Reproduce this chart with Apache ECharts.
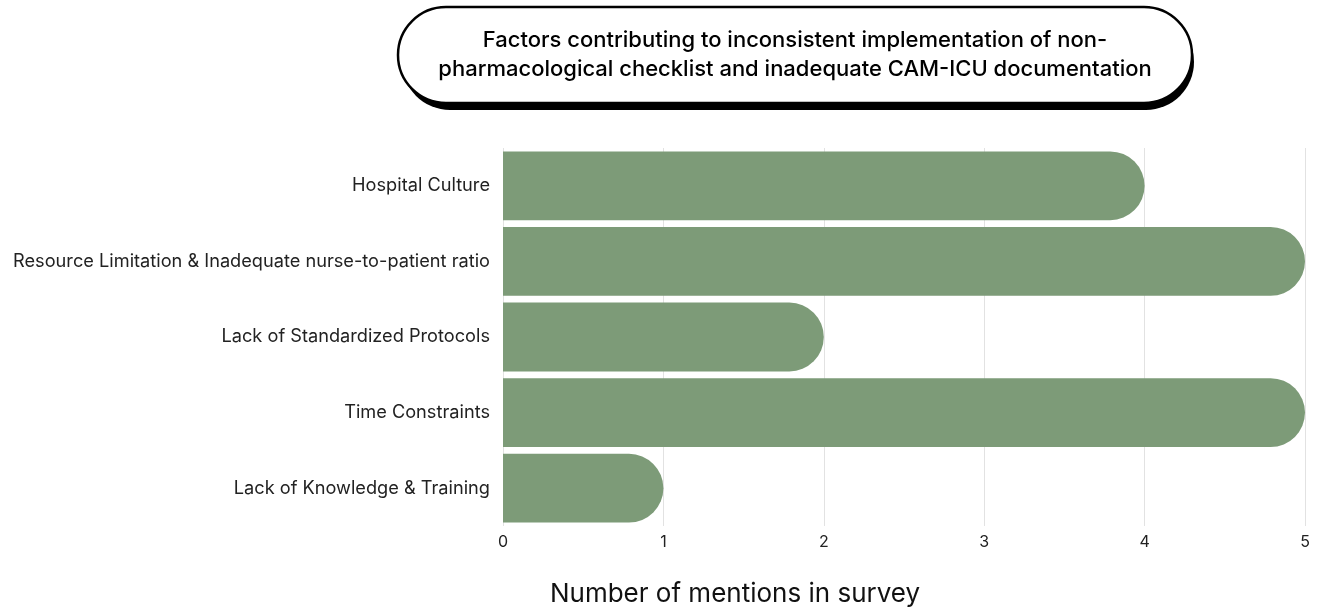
<!DOCTYPE html>
<html><head><meta charset="utf-8">
<script src="https://cdn.jsdelivr.net/npm/echarts@6/dist/echarts.min.js"></script>
<style>html,body{margin:0;padding:0;background:#fff}#c{width:1326px;height:613px}</style>
</head><body><div id="c"></div>
<script>
const categories = ["Hospital Culture","Resource Limitation & Inadequate nurse-to-patient ratio","Lack of Standardized Protocols","Time Constraints","Lack of Knowledge & Training"];
const mentions = [4,5,2,5,1];
const xTicks = [0,1,2,3,4,5];
const titleLines = ["Factors contributing to inconsistent implementation of non-","pharmacological checklist and inadequate CAM-ICU documentation"];
const xName = "Number of mentions in survey";

const chart = echarts.init(document.getElementById('c'));
chart.setOption({
  animation:false,
  grid:{left:503,right:21,top:148,bottom:87,containLabel:false},
  xAxis:{type:'value',min:xTicks[0],max:xTicks[xTicks.length-1],interval:1,
    axisLine:{show:false},axisTick:{show:false},
    splitLine:{lineStyle:{color:'#e2e2e2',width:1}},
    axisLabel:{color:'#222',fontSize:16,fontFamily:'Inter',margin:8}},
  yAxis:{type:'category',data:categories,inverse:true,
    axisLine:{show:false},axisTick:{show:false},
    axisLabel:{color:'#222',fontSize:18.2,fontFamily:'Inter',margin:13}},
  series:[{type:'bar',data:mentions,barCategoryGap:'9%',
    itemStyle:{color:'#7d9b78',borderRadius:[0,35,35,0]}}],
  graphic:[
    {type:'rect',shape:{x:402,y:14,width:792,height:96,r:48},style:{fill:'#000'},z:100},
    {type:'rect',shape:{x:398,y:7,width:794,height:96,r:48},style:{fill:'#fff',stroke:'#000',lineWidth:2.5},z:101},
    {type:'text',x:795,y:40,style:{text:titleLines[0],fontSize:22,fontWeight:500,fontFamily:'Inter',fill:'#000',align:'center',verticalAlign:'middle'},z:102},
    {type:'text',x:795,y:69,style:{text:titleLines[1],fontSize:22,fontWeight:500,fontFamily:'Inter',fill:'#000',align:'center',verticalAlign:'middle'},z:102},
    {type:'text',x:735,y:594,style:{text:xName,fontSize:26,fontFamily:'Inter',fill:'#111',align:'center',verticalAlign:'middle'},z:102}
  ]
});
</script></body></html>
